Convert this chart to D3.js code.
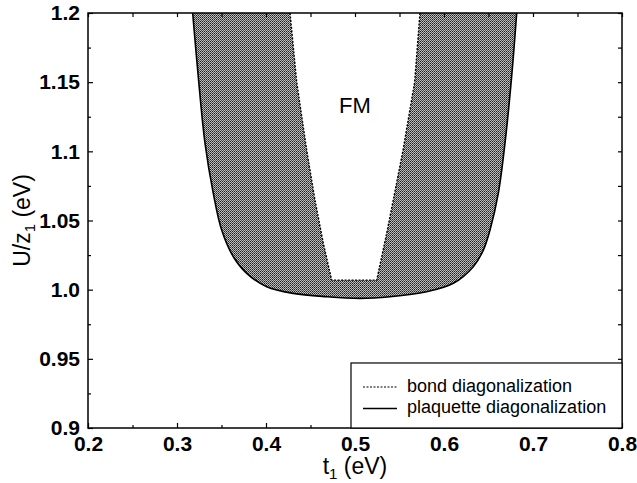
<!DOCTYPE html>
<html>
<head>
  <meta charset="utf-8">
  <script src="https://d3js.org/d3.v7.min.js"></script>
  <style>
    body { margin: 0; background: #fff; }
    .tick text { font: bold 21px "Liberation Sans", Arial, sans-serif; fill: #000; }
    .tick line { stroke: #000; stroke-width: 1.2px; }
    .title { font: 23px "Liberation Sans", Arial, sans-serif; fill: #000; }
    .legend text { font: 18px "Liberation Sans", Arial, sans-serif; fill: #000; }
  </style>
</head>
<body>
<svg id="chart" width="637" height="483"></svg>
<script>
// values
var xTicks = [0.2, 0.3, 0.4, 0.5, 0.6, 0.7, 0.8];
var xMinor = [0.25, 0.35, 0.45, 0.55, 0.65, 0.75];
var yTicks = [0.9, 0.95, 1.0, 1.05, 1.1, 1.15, 1.2];
var yTickLabels = ["0.9", "0.95", "1.0", "1.05", "1.1", "1.15", "1.2"];
var yMinor = [0.925, 0.975, 1.025, 1.075, 1.125, 1.175];

// plaquette diagonalization boundary (solid), top-left -> bottom -> top-right
var plaquetteT = [0.3176, 0.3239, 0.3315, 0.3408, 0.3502, 0.3633, 0.3783, 0.4008, 0.4307, 0.4682, 0.5056,
                  0.5393, 0.5805, 0.6105, 0.6329, 0.6442, 0.6517, 0.661, 0.6685, 0.676, 0.6817];
var plaquetteU = [1.2, 1.154, 1.1058, 1.0696, 1.0431, 1.0238, 1.0118, 1.0021, 0.9973, 0.9949, 0.9937,
                  0.9949, 0.9985, 1.0046, 1.0166, 1.0286, 1.0431, 1.0696, 1.1058, 1.154, 1.2];

// bond diagonalization boundary (dashed), top-left -> bottom -> top-right
var bondT = [0.427, 0.4345, 0.4457, 0.455, 0.4644, 0.4738, 0.5244, 0.5356, 0.543, 0.554, 0.567, 0.573];
var bondU = [1.2, 1.15, 1.1009, 1.0648, 1.0335, 1.0069, 1.0069, 1.0407, 1.0648, 1.1009, 1.15, 1.2];

var legendLabels = ["bond diagonalization", "plaquette diagonalization"];

var margin = {left: 88, top: 13, right: 15, bottom: 55};
var W = 637, H = 483;
var w = W - margin.left - margin.right, h = H - margin.top - margin.bottom;

var svg = d3.select("#chart");

var x = d3.scaleLinear().domain([0.2, 0.8]).range([0, w]);
var y = d3.scaleLinear().domain([0.9, 1.2]).range([h, 0]);

var defs = svg.append("defs");
var pat = defs.append("pattern")
    .attr("id", "dots")
    .attr("patternUnits", "userSpaceOnUse")
    .attr("width", 2).attr("height", 2);
pat.append("rect").attr("width", 2).attr("height", 2).attr("fill", "#bdbdbd");
pat.append("rect").attr("width", 1).attr("height", 1).attr("fill", "#1e1e1e");
pat.append("rect").attr("x", 1).attr("y", 1).attr("width", 1).attr("height", 1).attr("fill", "#505050");

defs.append("clipPath").attr("id", "plotclip")
  .append("rect").attr("width", w).attr("height", h);

var g = svg.append("g").attr("transform", "translate(" + margin.left + "," + margin.top + ")");

var outer = plaquetteT.map(function(t, i) { return [t, plaquetteU[i]]; });
var inner = bondT.map(function(t, i) { return [t, bondU[i]]; });

var smooth = d3.line()
    .x(function(d) { return x(d[0]); })
    .y(function(d) { return y(d[1]); })
    .curve(d3.curveCatmullRom.alpha(0.5));
var straight = d3.line()
    .x(function(d) { return x(d[0]); })
    .y(function(d) { return y(d[1]); });

var plot = g.append("g").attr("clip-path", "url(#plotclip)");

// shaded band between the two boundaries
var fillD = smooth(outer) + straight(inner.slice().reverse()).replace(/^M/, "L") + "Z";
plot.append("path")
    .attr("d", fillD)
    .attr("fill", "url(#dots)")
    .attr("stroke", "none");

plot.append("path")
    .attr("d", smooth(outer))
    .attr("fill", "none")
    .attr("stroke", "#000")
    .attr("stroke-width", 1.6);

plot.append("path")
    .attr("d", straight(inner))
    .attr("fill", "none")
    .attr("stroke", "#000")
    .attr("stroke-width", 1.4)
    .attr("stroke-dasharray", "2,1.5");

// axes, ticks pointing inwards
g.append("g").attr("transform", "translate(0," + h + ")")
  .call(d3.axisBottom(x).tickValues(xTicks).tickFormat(d3.format(".1f")).tickSize(-5).tickPadding(8));
g.append("g").attr("transform", "translate(0," + h + ")")
  .call(d3.axisBottom(x).tickValues(xMinor).tickFormat("").tickSize(-3));
g.append("g")
  .call(d3.axisTop(x).tickValues(xTicks.concat(xMinor)).tickFormat("").tickSize(-4));

g.append("g")
  .call(d3.axisLeft(y).tickValues(yTicks).tickFormat(function(d, i) { return yTickLabels[i]; }).tickSize(-5).tickPadding(8));
g.append("g")
  .call(d3.axisLeft(y).tickValues(yMinor).tickFormat("").tickSize(-3));
g.append("g").attr("transform", "translate(" + w + ",0)")
  .call(d3.axisRight(y).tickValues(yTicks.concat(yMinor)).tickFormat("").tickSize(-4));

g.selectAll(".domain").remove();

g.append("rect")
    .attr("width", w).attr("height", h)
    .attr("fill", "none")
    .attr("stroke", "#000")
    .attr("stroke-width", 1.5);

// FM label
g.append("text")
    .attr("class", "title")
    .attr("x", x(0.5)).attr("y", y(1.128))
    .attr("text-anchor", "middle")
    .style("font-size", "22px")
    .text("FM");

// axis titles
var xt = svg.append("text").attr("class", "title")
    .attr("x", margin.left + w / 2).attr("y", 474)
    .attr("text-anchor", "middle");
xt.append("tspan").text("t");
xt.append("tspan").attr("dy", 5).style("font-size", "15px").text("1");
xt.append("tspan").attr("dy", -5).text(" (eV)");

var yt = svg.append("text").attr("class", "title")
    .attr("transform", "translate(30," + (margin.top + h / 2) + ") rotate(-90)")
    .attr("text-anchor", "middle");
yt.append("tspan").text("U/z");
yt.append("tspan").attr("dy", 5).style("font-size", "15px").text("1");
yt.append("tspan").attr("dy", -5).text(" (eV)");

// legend
var lx0 = x(0.4955), ly0 = y(0.947);
var legend = g.append("g").attr("class", "legend");
legend.append("rect")
    .attr("x", lx0).attr("y", ly0)
    .attr("width", w - lx0).attr("height", h - ly0)
    .attr("fill", "#fff").attr("stroke", "#000").attr("stroke-width", 1.2);

var rows = legend.selectAll("g.row").data(legendLabels).enter()
  .append("g").attr("class", "row")
  .attr("transform", function(d, i) { return "translate(" + (lx0 + 12) + "," + (ly0 + 24 + i * 21.5) + ")"; });
rows.append("line")
    .attr("x1", 0).attr("x2", 34)
    .attr("stroke", "#000")
    .attr("stroke-width", function(d, i) { return i === 0 ? 1.2 : 1.6; })
    .attr("stroke-dasharray", function(d, i) { return i === 0 ? "2,1.5" : null; });
rows.append("text")
    .attr("x", 44).attr("y", 5)
    .text(function(d) { return d; });
</script>
</body>
</html>
